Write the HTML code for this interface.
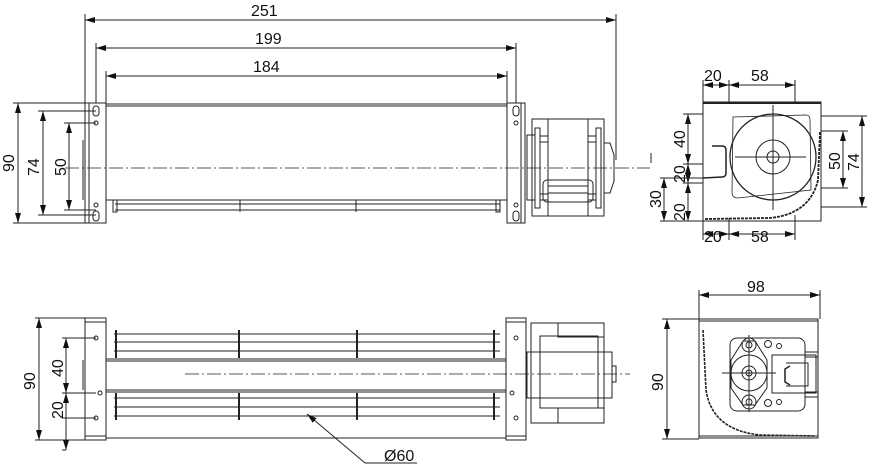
<!DOCTYPE html>
<html><head><meta charset="utf-8"><style>
html,body{margin:0;padding:0;background:#fff;}
svg{display:block;}
text{font-family:"Liberation Sans",sans-serif;font-size:16px;fill:#111;}
</style></head><body>
<svg width="875" height="468" viewBox="0 0 875 468" xmlns="http://www.w3.org/2000/svg">
<defs>
<marker id="a" viewBox="0 0 10 6" refX="10" refY="3" markerWidth="10" markerHeight="6" orient="auto-start-reverse" markerUnits="userSpaceOnUse"><path d="M0,0 L10,3 L0,6 z" fill="#111"/></marker>
</defs>
<g stroke="#222" stroke-width="1" fill="none">
<line x1="85" y1="14" x2="85" y2="103"/><line x1="616" y1="14" x2="616" y2="160"/>
<line x1="85" y1="20" x2="616" y2="20" marker-start="url(#a)" marker-end="url(#a)"/>
<line x1="96" y1="43" x2="96" y2="103"/><line x1="516" y1="43" x2="516" y2="103"/>
<line x1="96" y1="48" x2="516" y2="48" marker-start="url(#a)" marker-end="url(#a)"/>
<line x1="106" y1="71" x2="106" y2="103"/><line x1="507" y1="71" x2="507" y2="103"/>
<line x1="106" y1="76" x2="507" y2="76" marker-start="url(#a)" marker-end="url(#a)"/>
<line x1="13" y1="103" x2="85" y2="103"/><line x1="13" y1="223" x2="85" y2="223"/>
<line x1="18" y1="103" x2="18" y2="223" marker-start="url(#a)" marker-end="url(#a)"/>
<line x1="38" y1="111" x2="96" y2="111"/><line x1="38" y1="215" x2="96" y2="215"/>
<line x1="43" y1="111" x2="43" y2="215" marker-start="url(#a)" marker-end="url(#a)"/>
<line x1="64" y1="123" x2="96" y2="123"/><line x1="64" y1="210" x2="96" y2="210"/>
<line x1="69" y1="123" x2="69" y2="210" marker-start="url(#a)" marker-end="url(#a)"/>
<rect x="85" y="103" width="21" height="120"/><line x1="89" y1="103" x2="89" y2="223"/>
<rect x="507" y="103" width="18" height="120"/><line x1="521" y1="103" x2="521" y2="223"/>
<rect x="93" y="106" width="6" height="10" rx="3"/><rect x="93" y="211" width="6" height="10" rx="3"/>
<rect x="513" y="106" width="6" height="10" rx="3"/><rect x="513" y="211" width="6" height="10" rx="3"/>
<circle cx="96" cy="123" r="2"/><circle cx="96" cy="205" r="2"/>
<circle cx="516" cy="123" r="2"/><circle cx="516" cy="205" r="2"/>
<line x1="83" y1="140" x2="83" y2="200"/>
<line x1="106" y1="104" x2="507" y2="104"/><line x1="106" y1="106" x2="507" y2="106"/>
<line x1="106" y1="200" x2="507" y2="200"/>
<line x1="115" y1="204" x2="500" y2="204"/><line x1="115" y1="210" x2="500" y2="210"/>
<rect x="113" y="200" width="4" height="12"/><rect x="496" y="200" width="4" height="12"/>
<line x1="240" y1="200" x2="240" y2="212"/><line x1="356" y1="200" x2="356" y2="212"/>
<rect x="532" y="119" width="72" height="97"/>
<rect x="548" y="119" width="40" height="97"/>
<rect x="527" y="135" width="8" height="65"/><rect x="535" y="128" width="5" height="80"/>
<rect x="596" y="128" width="5" height="80"/>
<rect x="543" y="180" width="50" height="22" rx="4"/>
<line x1="548" y1="186" x2="588" y2="186"/><line x1="548" y1="193" x2="588" y2="193"/>
<rect x="540" y="136" width="8" height="6"/><rect x="588" y="136" width="8" height="6"/>
<rect x="540" y="194" width="8" height="6"/><rect x="588" y="194" width="8" height="6"/>
<path d="M604,143 L610,143 L614,155 L614,181 L610,193 L604,193"/>
<line x1="65" y1="168" x2="650" y2="168" stroke-dasharray="14,3,2,3" stroke-width="0.8"/>

<rect x="703" y="102" width="118" height="119"/>
<line x1="703" y1="103" x2="821" y2="103" stroke-width="2"/>
<line x1="703" y1="80" x2="703" y2="102"/><line x1="729" y1="80" x2="729" y2="104"/><line x1="795" y1="80" x2="795" y2="104"/>
<line x1="703" y1="85" x2="729" y2="85" marker-start="url(#a)" marker-end="url(#a)"/>
<line x1="729" y1="85" x2="795" y2="85" marker-start="url(#a)" marker-end="url(#a)"/>
<line x1="703" y1="221" x2="703" y2="240"/><line x1="729" y1="218" x2="729" y2="240"/><line x1="795" y1="215" x2="795" y2="240"/>
<line x1="703" y1="234" x2="729" y2="234" marker-start="url(#a)" marker-end="url(#a)"/>
<line x1="729" y1="234" x2="795" y2="234" marker-start="url(#a)" marker-end="url(#a)"/>
<line x1="821" y1="116" x2="867" y2="116"/><line x1="821" y1="207" x2="867" y2="207"/>
<line x1="862" y1="116" x2="862" y2="207" marker-start="url(#a)" marker-end="url(#a)"/>
<line x1="821" y1="131" x2="848" y2="131"/><line x1="821" y1="188" x2="848" y2="188"/>
<line x1="843" y1="131" x2="843" y2="188" marker-start="url(#a)" marker-end="url(#a)"/>
<line x1="683" y1="114" x2="703" y2="114"/><line x1="683" y1="164" x2="703" y2="164"/><line x1="683" y1="183" x2="703" y2="183"/>
<line x1="688" y1="114" x2="688" y2="164" marker-start="url(#a)" marker-end="url(#a)"/>
<line x1="688" y1="164" x2="688" y2="183" marker-start="url(#a)" marker-end="url(#a)"/>
<line x1="688" y1="183" x2="688" y2="221" marker-start="url(#a)" marker-end="url(#a)"/>
<line x1="660" y1="178" x2="703" y2="178"/><line x1="660" y1="221" x2="703" y2="221"/>
<line x1="664" y1="178" x2="664" y2="221" marker-start="url(#a)" marker-end="url(#a)"/>
<path d="M733,117 L806,115 Q810,115 810,120 L811,190 L738,198 Q732,198 732,192 Z" stroke-width="0.8"/>
<circle cx="773" cy="157" r="43" stroke-width="1.3"/>
<circle cx="773" cy="157" r="17"/><circle cx="773" cy="157" r="6"/>
<line x1="773" y1="105" x2="773" y2="210"/><line x1="735" y1="157" x2="806" y2="157"/>
<path d="M712,146 L722,146 Q726,146 726,150 L726,173 Q726,177 722,177 L703,178" stroke-width="1.5"/>
<path d="M705,219 L770,218 Q810,214 818,180 L820,132" stroke-width="1.8" stroke-dasharray="3,1"/>
<line x1="651" y1="153" x2="651" y2="163"/>

<line x1="35" y1="318" x2="85" y2="318"/><line x1="35" y1="440" x2="85" y2="440"/>
<line x1="39" y1="318" x2="39" y2="440" marker-start="url(#a)" marker-end="url(#a)"/>
<line x1="62" y1="338" x2="96" y2="338"/><line x1="62" y1="393" x2="96" y2="393"/><line x1="62" y1="450" x2="66" y2="450"/>
<line x1="66" y1="338" x2="66" y2="393" marker-start="url(#a)" marker-end="url(#a)"/>
<line x1="66" y1="393" x2="66" y2="450" marker-start="url(#a)" marker-end="url(#a)"/>
<line x1="62" y1="418" x2="96" y2="418"/>
<rect x="85" y="318" width="21" height="122"/><line x1="85" y1="322" x2="106" y2="322"/><line x1="85" y1="436" x2="106" y2="436"/>
<rect x="506" y="318" width="20" height="122"/><line x1="506" y1="322" x2="526" y2="322"/><line x1="506" y1="436" x2="526" y2="436"/>
<circle cx="96" cy="338" r="2"/><circle cx="100" cy="393" r="2"/><circle cx="96" cy="418" r="2"/>
<circle cx="516" cy="338" r="2"/><circle cx="512" cy="393" r="2"/><circle cx="516" cy="418" r="2"/>
<line x1="83" y1="360" x2="83" y2="390"/>
<line x1="114" y1="334" x2="500" y2="334"/><line x1="114" y1="342" x2="500" y2="342"/><line x1="114" y1="351" x2="500" y2="351"/>
<line x1="106" y1="359" x2="506" y2="359"/><line x1="106" y1="361" x2="506" y2="361"/>
<line x1="106" y1="390" x2="506" y2="390"/><line x1="106" y1="392" x2="506" y2="392"/>
<line x1="114" y1="398" x2="500" y2="398"/><line x1="114" y1="407" x2="500" y2="407"/><line x1="114" y1="416" x2="500" y2="416"/>
<line x1="106" y1="438" x2="506" y2="438"/>
<g stroke-width="2"><line x1="116" y1="330" x2="116" y2="358"/><line x1="116" y1="393" x2="116" y2="420"/>
<line x1="239" y1="330" x2="239" y2="358"/><line x1="239" y1="393" x2="239" y2="420"/>
<line x1="357" y1="330" x2="357" y2="358"/><line x1="357" y1="393" x2="357" y2="420"/>
<line x1="494" y1="330" x2="494" y2="358"/><line x1="494" y1="393" x2="494" y2="420"/></g>
<rect x="531" y="323" width="73" height="100"/>
<rect x="527" y="352" width="85" height="46"/>
<rect x="540" y="336" width="58" height="72"/>
<rect x="558" y="323" width="46" height="14"/><rect x="558" y="408" width="46" height="15"/>
<path d="M612,366 L616,366 L616,382 L612,382"/>
<line x1="185" y1="374" x2="630" y2="374" stroke-dasharray="14,3,2,3" stroke-width="0.8"/>
<line x1="365" y1="463" x2="307" y2="414" marker-end="url(#a)"/>
<line x1="365" y1="463" x2="417" y2="463"/>

<line x1="699" y1="290" x2="699" y2="319"/><line x1="820" y1="290" x2="820" y2="319"/>
<line x1="699" y1="295" x2="820" y2="295" marker-start="url(#a)" marker-end="url(#a)"/>
<line x1="662" y1="319" x2="699" y2="319"/><line x1="662" y1="439" x2="699" y2="439"/>
<line x1="667" y1="319" x2="667" y2="439" marker-start="url(#a)" marker-end="url(#a)"/>
<rect x="699" y="319" width="119" height="119"/><line x1="699" y1="321" x2="818" y2="321"/><line x1="699" y1="436" x2="818" y2="436"/>
<path d="M703,330 L706,390 Q712,430 760,435 L815,436" stroke-width="1.6" stroke-dasharray="3,1"/>
<rect x="730" y="338" width="75" height="73" rx="7"/>
<path d="M743,341 L755,341 L767,360 L767,388 L755,405 L743,405 L731,388 L731,360 Z"/>
<circle cx="749" cy="373" r="18"/><circle cx="749" cy="373" r="7"/><circle cx="749" cy="373" r="3"/>
<circle cx="749" cy="345" r="7"/><circle cx="749" cy="345" r="3"/>
<circle cx="749" cy="402" r="7"/><circle cx="749" cy="402" r="3"/>
<circle cx="768" cy="344" r="3.5"/><circle cx="779" cy="346" r="2.5"/>
<circle cx="768" cy="403" r="3.5"/><circle cx="779" cy="402" r="2.5"/>
<line x1="749" y1="335" x2="749" y2="412"/><line x1="722" y1="373" x2="776" y2="373"/>
<rect x="772" y="355" width="44" height="38"/>
<path d="M786,363 L808,363 L808,386 L786,386"/>
<path d="M790,366 L785,369 L785,382 L790,385" stroke-width="1.5"/>
<rect x="805" y="352" width="13" height="5"/><rect x="805" y="392" width="13" height="5"/>
</g>
<g>
<text x="251" y="16">251</text>
<text x="255" y="44">199</text>
<text x="253" y="72">184</text>
<text transform="translate(14,172) rotate(-90)">90</text>
<text transform="translate(39,176) rotate(-90)">74</text>
<text transform="translate(66,176) rotate(-90)">50</text>
<text x="704" y="81">20</text>
<text x="751" y="81">58</text>
<text x="704" y="242">20</text>
<text x="751" y="242">58</text>
<text transform="translate(685,148) rotate(-90)">40</text>
<text transform="translate(685,183) rotate(-90)">20</text>
<text transform="translate(685,221) rotate(-90)">20</text>
<text transform="translate(661,208) rotate(-90)">30</text>
<text transform="translate(840,170) rotate(-90)">50</text>
<text transform="translate(859,171) rotate(-90)">74</text>
<text transform="translate(35,390) rotate(-90)">90</text>
<text transform="translate(63,377) rotate(-90)">40</text>
<text transform="translate(63,419) rotate(-90)">20</text>
<text x="384" y="461">Ø60</text>
<text x="747" y="292">98</text>
<text transform="translate(663,391) rotate(-90)">90</text>
</g>
</svg>
</body></html>
